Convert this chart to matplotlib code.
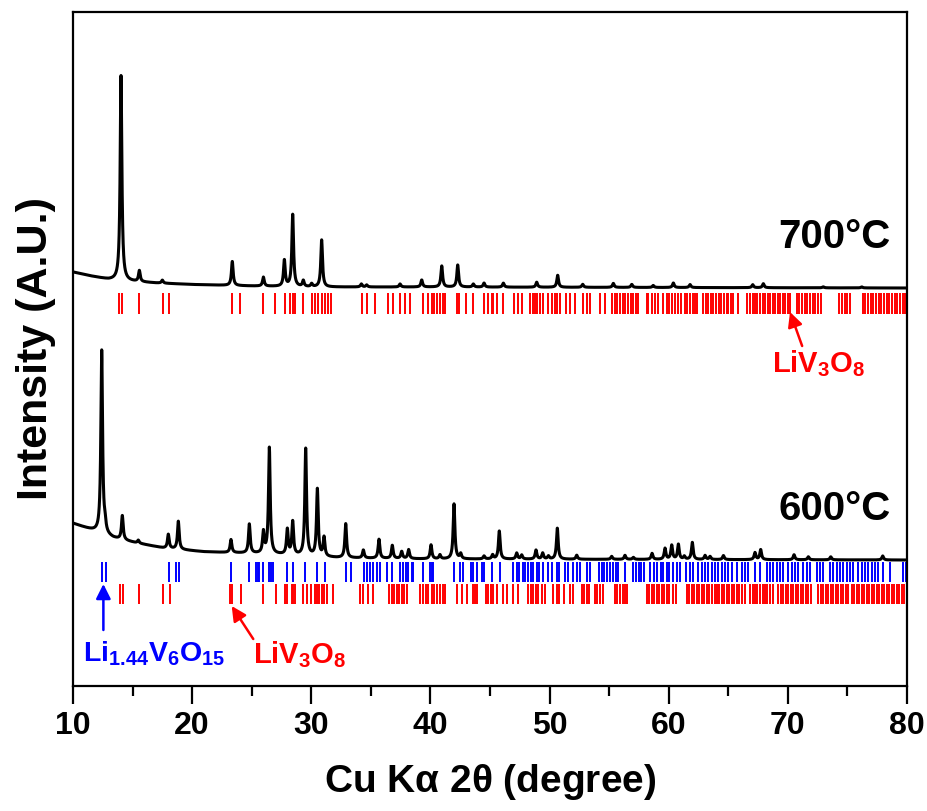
import numpy as np
import matplotlib
matplotlib.use("Agg")
import matplotlib.pyplot as plt

plt.rcParams['font.family'] = ['Liberation Sans', 'DejaVu Sans']
plt.rcParams['font.weight'] = 'bold'
plt.rcParams['mathtext.fontset'] = 'custom'
plt.rcParams['mathtext.rm'] = 'Liberation Sans:bold'
plt.rcParams['mathtext.default'] = 'rm'

# ---- 700 C pattern (y in axis units, 0 = bottom of frame) ----
bg700_x = [10, 11.5, 13, 15, 17, 20, 25, 30, 40, 80]
bg700_y = [414, 410, 406.5, 404.5, 403, 401.5, 400, 399, 399, 398]
pk700_pos = [14.03, 15.57, 17.5, 23.37, 25.98, 27.74, 28.44, 29.33, 30.03, 30.87,
             34.2, 34.65, 37.45, 39.27, 40.95, 42.29, 43.6, 44.5, 46.12, 48.92,
             50.68, 52.78, 55.35, 56.9, 58.7, 60.39, 61.79, 67.05, 67.94, 72.97, 76.2]
pk700_h = [205, 11, 3, 24, 9, 26, 72, 6, 3, 47,
           3, 2, 3, 7, 21, 22, 3, 4, 4, 5,
           12, 3, 4, 3, 2, 4.5, 3, 3, 4, 1, 1]

# ---- 600 C pattern ----
bg600_x = [10, 11.99, 13.38, 15.34, 17.58, 20.94, 23.18, 26.5, 32.13, 34.93, 40, 80]
bg600_y = [162.7, 154.3, 148, 143, 138, 134.3, 133.3, 132, 128.3, 127.7, 127, 126]
pk600_pos = [12.41, 12.69, 14.14, 15.48, 18.0, 18.84, 23.26, 24.8, 25.98, 26.48,
             27.99, 28.44, 29.53, 30.51, 31.07, 32.89, 34.37, 35.68, 36.8, 37.59,
             38.17, 40.05, 40.8, 41.98, 42.54, 44.5, 45.22, 45.78, 47.24, 47.66,
             48.86, 49.42, 49.9, 50.65, 52.28, 55.21, 56.33, 57.03, 58.6, 59.69,
             60.25, 60.81, 61.31, 61.98, 63.05, 63.47, 64.59, 67.24, 67.72, 70.52,
             71.72, 73.6, 77.96]
pk600_h = [183, 8, 24, 3, 14, 28, 13, 29, 21, 106,
           25, 33, 107, 67, 19, 34, 8, 19, 13, 7,
           9, 14, 4, 55, 5, 3, 4, 28, 6, 4,
           9, 6, 3, 31, 4, 3, 4, 2, 6, 11,
           14, 15, 3, 17, 4, 3, 4, 7, 10, 5,
           3, 3, 4]

# ---- reference tick positions (2theta) ----
liv3o8_700 = [13.89, 14.08, 15.57, 17.53, 18.09, 23.32, 24.02, 25.98, 26.96, 27.8,
              28.21, 28.44, 28.63, 29.33, 30.03, 30.31, 30.59, 30.87, 31.15, 31.43,
              31.63, 34.23, 34.65, 35.35, 36.47, 36.89, 37.45, 37.87, 38.29, 39.4,
              39.82, 40.1, 40.3, 40.53, 40.8, 41.03, 41.22, 42.2, 42.43, 42.99,
              43.6, 44.5, 44.86, 45.14, 45.28, 45.56, 46.12, 47.0, 47.38, 47.66,
              48.36, 48.58, 48.78, 48.97, 49.2, 49.42, 49.9, 50.18, 50.46, 50.65,
              50.88, 51.38, 51.72, 52.14, 52.78, 53.12, 53.4, 54.23, 54.65, 55.21,
              55.5, 55.69, 55.91, 56.14, 56.33, 56.61, 56.81, 57.03, 57.26, 57.45,
              58.15, 58.29, 58.57, 58.85, 59.13, 59.55, 59.83, 60.05, 60.25, 60.53,
              60.81, 61.0, 61.37, 61.56, 61.79, 62.01, 62.21, 62.4, 62.9, 63.13,
              63.32, 63.52, 63.74, 63.97, 64.19, 64.41, 64.64, 64.86, 65.0, 65.2,
              65.42, 65.84, 66.6, 66.82, 67.05, 67.24, 67.44, 67.66, 67.89, 68.08,
              68.3, 68.5, 68.73, 68.92, 69.15, 69.34, 69.57, 69.76, 69.99, 70.18,
              70.74, 70.96, 71.19, 71.41, 71.63, 71.86, 72.08, 72.31, 72.53, 72.76,
              74.32, 74.54, 74.77, 74.99, 75.22, 76.28, 76.5, 76.73, 76.96, 77.17,
              77.4, 77.63, 77.85, 78.07, 78.3, 78.52, 78.74, 78.97, 79.2, 79.41,
              79.64, 79.86]
li144_600 = [12.46, 12.74, 18.03, 18.62, 18.9, 23.26, 24.8, 25.36, 25.5, 25.64,
             25.98, 26.48, 26.62, 26.76, 27.99, 28.44, 29.47, 30.51, 31.15, 32.91,
             33.31, 34.43, 34.65, 34.93, 35.21, 35.49, 35.77, 36.33, 36.75, 37.45,
             37.67, 37.95, 38.15, 38.43, 38.56, 39.4, 39.97, 40.11, 40.24, 41.98,
             42.48, 42.76, 43.38, 43.6, 43.88, 44.3, 44.5, 45.14, 45.84, 46.96,
             47.24, 47.46, 47.74, 47.94, 48.22, 48.41, 48.64, 48.92, 49.14, 49.42,
             49.9, 50.18, 50.6, 50.82, 51.3, 51.58, 52.0, 52.28, 52.56, 53.17,
             53.4, 54.18, 54.37, 54.57, 54.79, 55.07, 55.3, 55.58, 55.77, 56.33,
             57.03, 57.26, 57.48, 57.7, 57.93, 58.43, 58.77, 59.05, 59.33, 59.55,
             59.83, 60.05, 60.33, 60.67, 60.95, 61.45, 61.79, 62.07, 62.49, 62.77,
             63.05, 63.33, 63.61, 63.89, 64.17, 64.45, 64.73, 65.01, 65.29, 65.71,
             66.13, 66.41, 66.69, 67.25, 67.67, 68.23, 68.51, 68.79, 69.07, 69.35,
             69.63, 70.05, 70.33, 70.61, 70.88, 71.3, 71.58, 71.86, 72.42, 72.7,
             72.98, 73.54, 73.82, 74.1, 74.38, 74.66, 74.94, 75.22, 75.5, 75.92,
             76.2, 76.48, 76.76, 77.04, 77.32, 77.6, 78.02, 78.58, 79.7, 79.95]
liv3o8_600 = [13.94, 14.22, 15.57, 17.53, 18.14, 23.18, 23.37, 24.07, 25.98, 27.04,
              27.8, 27.94, 28.36, 28.5, 28.63, 29.33, 29.67, 29.95, 30.31, 30.51,
              30.67, 30.87, 31.07, 31.35, 31.8, 34.09, 34.37, 34.79, 35.15, 36.55,
              36.75, 36.94, 37.17, 37.39, 37.59, 37.78, 38.01, 39.13, 39.35, 39.63,
              39.82, 40.11, 40.3, 40.53, 40.8, 41.03, 41.22, 42.2, 42.62, 43.04,
              43.55, 43.74, 43.94, 44.67, 44.86, 45.06, 45.28, 45.56, 46.07, 46.4,
              46.91, 47.38, 48.22, 48.44, 48.64, 48.86, 49.06, 49.34, 49.62, 50.32,
              50.6, 50.82, 51.21, 51.72, 52.0, 52.7, 52.89, 53.12, 53.34, 53.81,
              54.01, 54.23, 54.46, 55.49, 55.69, 55.91, 56.14, 56.33, 56.53, 58.15,
              58.38, 58.57, 58.77, 58.99, 59.21, 59.41, 59.61, 59.83, 60.05, 60.33,
              60.61, 61.51, 61.73, 61.93, 62.12, 62.35, 62.57, 62.77, 62.96, 63.19,
              63.41, 63.64, 63.86, 64.03, 64.25, 64.45, 64.65, 64.87, 65.09, 65.29,
              65.48, 65.71, 65.93, 66.13, 66.41, 66.83, 67.05, 67.25, 67.44, 67.67,
              67.89, 68.09, 68.28, 68.51, 68.73, 69.21, 69.43, 69.63, 69.85, 70.05,
              70.27, 70.47, 70.69, 70.88, 71.08, 71.3, 71.53, 71.72, 71.95, 72.56,
              72.79, 72.98, 73.21, 73.4, 73.6, 73.82, 74.05, 74.24, 74.44, 74.66,
              74.89, 75.08, 75.36, 75.59, 75.78, 76.0, 76.2, 76.42, 76.62, 76.84,
              77.04, 77.26, 77.46, 77.68, 77.88, 78.1, 78.3, 78.52, 78.72, 78.94,
              79.14, 79.36, 79.56, 79.78]

xticks = [10, 20, 30, 40, 50, 60, 70, 80]


def pattern(x, bg_x, bg_y, pos, h, fwhm=0.17):
    y = np.interp(x, bg_x, bg_y)
    g = fwhm / 2.0
    for p, a in zip(pos, h):
        y = y + a * g ** 2 / ((x - p) ** 2 + g ** 2)
    return y


x = np.linspace(10, 80, 14001)
y700 = pattern(x, bg700_x, bg700_y, pk700_pos, pk700_h)
y600 = pattern(x, bg600_x, bg600_y, pk600_pos, pk600_h)

fig = plt.figure(figsize=(9.27, 8.11), dpi=100)
ax = fig.add_axes([73 / 927, 1 - 686 / 811, 834 / 927, 674 / 811])

ax.plot(x, y700, color='black', lw=2.2, solid_joinstyle='round')
ax.plot(x, y600, color='black', lw=2.2, solid_joinstyle='round')

ax.vlines(liv3o8_700, 372, 393, colors='#ff0000', lw=1.4)
ax.vlines(li144_600, 104, 124, colors='#0000ff', lw=1.4)
ax.vlines(liv3o8_600, 82, 102, colors='#ff0000', lw=1.4)

ax.text(78.6, 438, '700\u00b0C', ha='right', va='baseline', fontsize=29,
        fontweight='bold')
ax.text(78.6, 166, '600\u00b0C', ha='right', va='baseline', fontsize=29,
        fontweight='bold')

arrow_kw = dict(arrowstyle='-|>', lw=1.8, mutation_scale=22, shrinkA=0, shrinkB=0)

ax.text(72.6, 314, r'LiV$_3$O$_8$', ha='center', va='baseline', fontsize=21,
        color='#ff0000')
ax.annotate('', xy=(70.18, 374), xytext=(71.2, 340),
            arrowprops=dict(color='#ff0000', **arrow_kw))

ax.text(29.0, 22.7, r'LiV$_3$O$_8$', ha='center', va='baseline', fontsize=21,
        color='#ff0000')
ax.annotate('', xy=(23.32, 80), xytext=(25.13, 47),
            arrowprops=dict(color='#ff0000', **arrow_kw))

ax.text(16.85, 24.3, r'Li$_{1.44}$V$_6$O$_{15}$', ha='center', va='baseline',
        fontsize=20.5, color='#0000ff')
ax.annotate('', xy=(12.55, 102), xytext=(12.55, 56),
            arrowprops=dict(color='#0000ff', **arrow_kw))

ax.set_xlim(10, 80)
ax.set_ylim(0, 674)
ax.set_xticks(xticks)
ax.set_xticks(np.arange(15, 80, 10), minor=True)
ax.set_yticks([])
ax.tick_params(axis='x', which='major', direction='out', length=13, width=1.6,
               labelsize=23, pad=5)
ax.tick_params(axis='x', which='minor', direction='out', length=7, width=1.6)
for s in ax.spines.values():
    s.set_linewidth(1.6)

ax.set_xlabel(r'Cu K$\alpha$ 2$\theta$ (degree)', fontsize=28, fontweight='bold',
              labelpad=15)
ax.set_ylabel('Intensity (A.U.)', fontsize=31, fontweight='bold', labelpad=12)

fig.savefig('out.png', dpi=100)
